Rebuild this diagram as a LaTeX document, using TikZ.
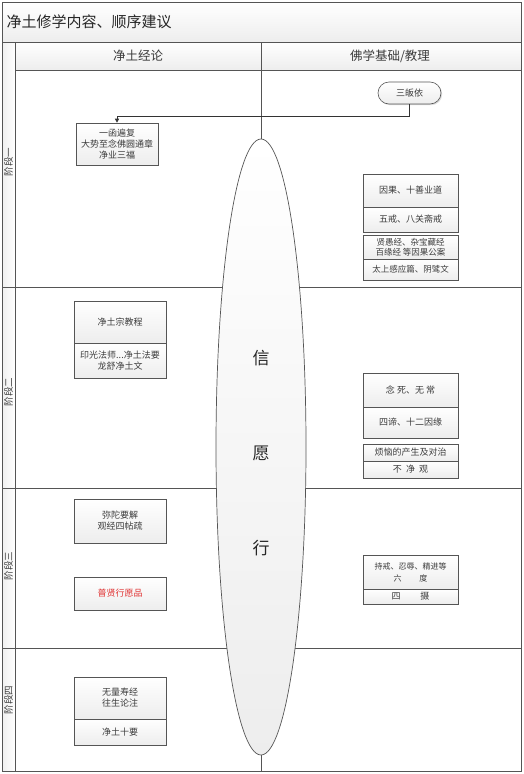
\documentclass[tikz,border=0pt]{standalone}
\usepackage{fontspec}
\newfontfamily\cjk{Noto Sans CJK SC}
\usetikzlibrary{arrows.meta,shadows,shapes.geometric}
\definecolor{frame}{HTML}{555555}
\definecolor{txt}{HTML}{3C3C3C}
\definecolor{redtxt}{HTML}{E03030}
\begin{document}
\begin{tikzpicture}[x=1pt,y=-1pt,
  lane/.style={draw=frame,line width=0.8pt},
  stepbox/.style={draw=frame,line width=0.6pt,top color=white,bottom color=gray!14,
    inner sep=0pt,align=center,text=txt,font=\cjk\fontsize{9}{11}\selectfont,
    drop shadow={shadow xshift=1.2pt,shadow yshift=-1.2pt,fill=gray!45,opacity=0.6}},
  lanelabel/.style={rotate=90,font=\cjk\fontsize{9.5}{11}\selectfont,text=txt},
  bigchar/.style={font=\cjk\fontsize{17}{20}\selectfont,text=black!85},
  hdr/.style={font=\cjk\fontsize{12.5}{15}\selectfont,text=txt},
  link/.style={draw=black!80,line width=0.6pt,-{Triangle[length=4pt,width=4pt]}}
]
\useasboundingbox (0,0) rectangle (524,774);
\fill[white] (0,0) rectangle (524,774);
% title bar
\shade[top color=white,bottom color=gray!14,draw=frame,line width=0.8pt] (2,2) rectangle (521,42);
\node[anchor=west,font=\cjk\fontsize{15}{18}\selectfont,text=black!85] (title) at (3,22) {净土修学内容、顺序建议};
% lane strip cells
\shade[left color=gray!12,right color=white,draw=frame,line width=0.8pt] (2,42) rectangle (15,287);
\shade[left color=gray!12,right color=white,draw=frame,line width=0.8pt] (2,287) rectangle (15,488);
\shade[left color=gray!12,right color=white,draw=frame,line width=0.8pt] (2,488) rectangle (15,648);
\shade[left color=gray!12,right color=white,draw=frame,line width=0.8pt] (2,648) rectangle (15,771);
% header row
\shade[top color=white,bottom color=gray!14,draw=frame,line width=0.8pt] (15,42) rectangle (521,70);
% body
\draw[lane] (15,70) rectangle (521,771);
\draw[lane] (15,287) -- (521,287);
\draw[lane] (15,488) -- (521,488);
\draw[lane] (15,648) -- (521,648);
\draw[lane] (261,42) -- (261,771);
% headers
\node[hdr] (h1) at (138,56) {净土经论};
\node[hdr] (h2) at (390,56) {佛学基础/教理};
% lane labels
\node[lanelabel] (l1) at (8.5,162) {阶段一};
\node[lanelabel] (l2) at (8.5,392) {阶段二};
\node[lanelabel] (l3) at (8.5,566) {阶段三};
\node[lanelabel] (l4) at (8.5,700) {阶段四};
% central ellipse
\node[ellipse,draw=frame,line width=0.7pt,top color=white,bottom color=gray!14,
  minimum width=90pt,minimum height=616pt,inner sep=0pt] (xyx) at (261,447) {};
\node[bigchar] (xin) at (261,358) {信};
\node[bigchar] (yuan) at (261,453) {愿};
\node[bigchar] (xing) at (261,548) {行};
% stage 1
\node[stepbox,minimum width=63pt,minimum height=22pt,rounded corners=11pt] (sgy) at (409.5,93) {三皈依};
\node[stepbox,minimum width=82pt,minimum height=42pt] (b1) at (117,144) {一函遍复\\大势至念佛圆通章\\净业三福};
\node[stepbox,minimum width=95pt,minimum height=33pt] (r1) at (410.5,190.5) {因果、十善业道};
\node[stepbox,minimum width=95pt,minimum height=25pt] (r2) at (410.5,219.5) {五戒、八关斋戒};
\node[stepbox,minimum width=95pt,minimum height=24pt,font=\cjk\fontsize{8.5}{10}\selectfont] (r3) at (410.5,247) {贤愚经、杂宝藏经\\百缘经 等因果公案};
\node[stepbox,minimum width=95pt,minimum height=21pt,font=\cjk\fontsize{8.5}{10}\selectfont] (r4) at (410.5,269.5) {太上感应篇、阴骘文};
\draw[link] (sgy.south) -- ++(0,12) -| (b1.north);
% stage 2
\node[stepbox,minimum width=92pt,minimum height=42pt] (b2) at (120,322) {净土宗教程};
\node[stepbox,minimum width=92pt,minimum height=35pt] (b3) at (120,360.5) {印光法师...净土法要\\龙舒净土文};
\node[stepbox,minimum width=95pt,minimum height=34pt] (r5) at (410.5,390) {念 死、无 常};
\node[stepbox,minimum width=95pt,minimum height=31pt] (r6) at (410.5,422.5) {四谛、十二因缘};
\node[stepbox,minimum width=95pt,minimum height=17pt] (r7) at (410.5,452.5) {烦恼的产生及对治};
\node[stepbox,minimum width=95pt,minimum height=17pt] (r8) at (410.5,469.5) {不\ \ 净\ \ 观};
% stage 3
\node[stepbox,minimum width=92pt,minimum height=44pt] (b4) at (120,521) {弥陀要解\\观经四帖疏};
\node[stepbox,minimum width=92pt,minimum height=33pt,text=redtxt] (b5) at (120,593.5) {普贤行愿品};
\node[stepbox,minimum width=95pt,minimum height=34pt,font=\cjk\fontsize{8}{12}\selectfont] (r9) at (410.5,572) {持戒、忍辱、精进等\\六\hspace{2.2em}度};
\node[stepbox,minimum width=95pt,minimum height=15pt] (r10) at (410.5,596.5) {四\hspace{2.2em}摄};
% stage 4
\node[stepbox,minimum width=92pt,minimum height=42pt] (b6) at (120,698) {无量寿经\\往生论注};
\node[stepbox,minimum width=92pt,minimum height=26pt] (b7) at (120,732) {净土十要};
\end{tikzpicture}
\end{document}
